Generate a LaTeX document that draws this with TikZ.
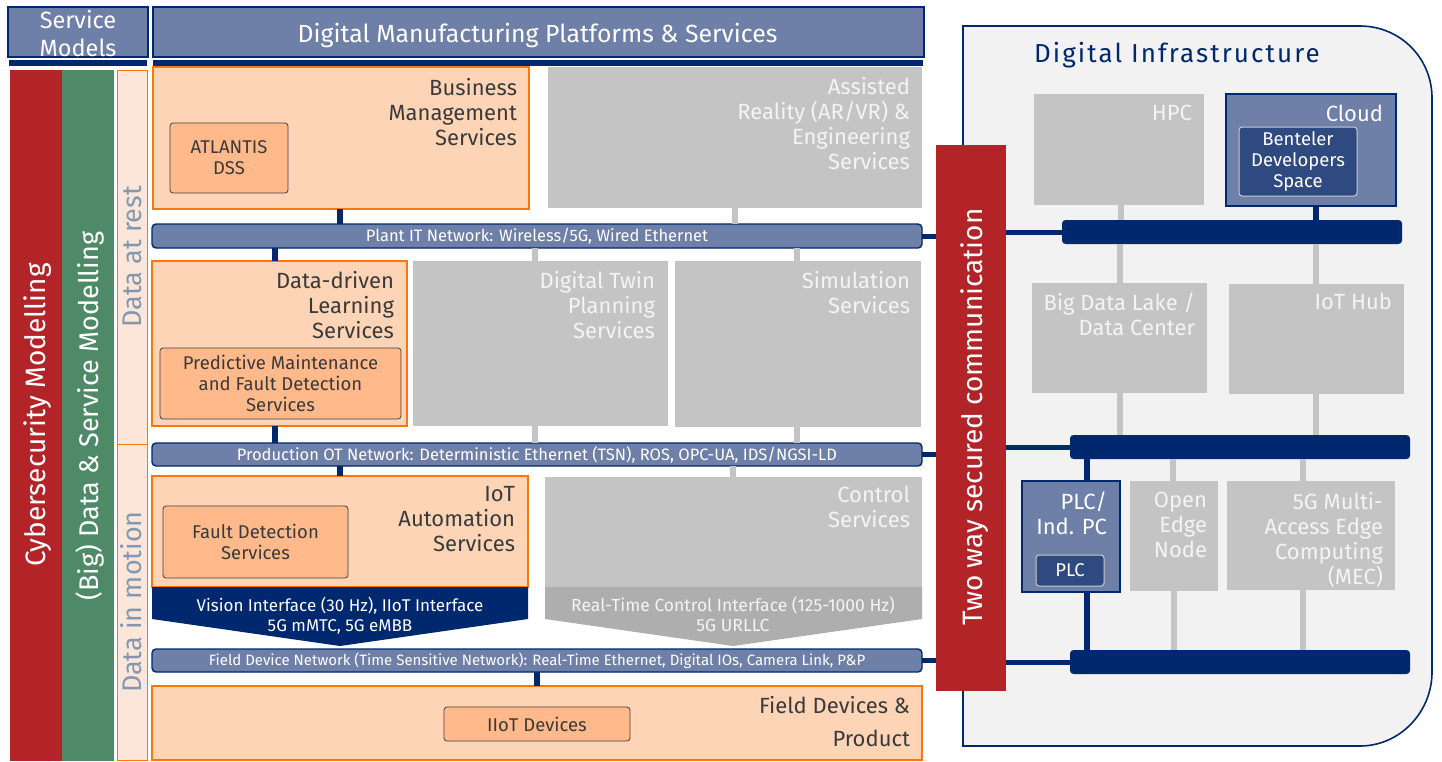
\documentclass[tikz,border=0pt]{standalone}
\usepackage{fontspec}
\setmainfont{Fira Sans}
\usetikzlibrary{calc}
\definecolor{navy}{HTML}{00286E}
\definecolor{slate}{HTML}{6E7FA8}
\definecolor{crimson}{HTML}{B22427}
\definecolor{sgreen}{HTML}{4E8A68}
\definecolor{peach}{HTML}{FDD5B6}
\definecolor{peachd}{HTML}{FFB98A}
\definecolor{orng}{HTML}{F9770E}
\definecolor{peachl}{HTML}{FBE6D9}
\definecolor{lgray}{HTML}{C4C4C4}
\definecolor{mgray}{HTML}{AEAEAE}
\definecolor{infrabg}{HTML}{F2F2F2}
\definecolor{deepblue}{HTML}{2F4A80}
\definecolor{restcol}{HTML}{8497B0}
\definecolor{dtext}{HTML}{3A3A3A}
\definecolor{gtext}{HTML}{F4F4F4}
\begin{document}
\begin{tikzpicture}[x=1pt,y=-1pt,
  every node/.style={inner sep=0pt,outer sep=0pt},
  shp/.style={anchor=north west},
  hdrbox/.style={shp, draw=navy, line width=1.6pt, fill=slate},
  navybar/.style={shp, fill=navy},
  pbox/.style={shp, draw=orng, line width=1.6pt, fill=peach},
  ibox/.style={shp, draw=black!75, line width=0.8pt, fill=peachd, rounded corners=3pt, text=dtext, align=center},
  gbox/.style={shp, fill=lgray},
  net/.style={shp, draw=navy, line width=1.4pt, fill=slate, rounded corners=4pt, text=white},
  bus/.style={shp, fill=navy, rounded corners=3.5pt},
  blbox/.style={shp, draw=navy, line width=1.8pt, fill=slate},
  dbox/.style={shp, draw=black!20, line width=1pt, fill=deepblue, rounded corners=3pt, text=white, align=center},
  dlbl/.style={text=dtext, align=right, anchor=north east},
  glbl/.style={text=gtext, align=right, anchor=north east},
  wlbl/.style={text=white, align=right, anchor=north east},
  vtxt/.style={text=white, rotate=90, anchor=base},
  nc/.style={draw=navy, line width=6pt},
  gc/.style={draw=lgray, line width=6pt},
  hc/.style={draw=navy, line width=5pt},
  fbig/.style={font=\fontsize{22}{25}\selectfont},
  fin/.style={font=\fontsize{18.5}{21}\selectfont},
  fbar/.style={font=\fontsize{16.5}{18}\selectfont},
]
\useasboundingbox (0,0) rectangle (1442,761);
% ---------- headers
\node[hdrbox, minimum width=140, minimum height=50] (smb) at (8,7) {};
\node[text=white, align=center, font=\fontsize{23.5}{28}\selectfont, anchor=north] (smt) at (78,10) {Service\\Models};
\node[navybar, minimum width=138, minimum height=6] (smbar) at (9,60) {};
\node[hdrbox, minimum width=771, minimum height=50] (dmp) at (153,7) {};
\node[text=white, anchor=base, font=\fontsize{24.8}{28}\selectfont] (dmpt) at (537.5,42) {Digital Manufacturing Platforms \& Services};
\node[navybar, minimum width=770, minimum height=6] (dmpbar) at (153,60) {};
% ---------- left columns
\node[shp, fill=crimson, minimum width=52, minimum height=691] (cyb) at (10,70) {};
\node[vtxt, font=\fontsize{28}{30}\selectfont] (cybt) at (45,415) {Cybersecurity Modelling};
\node[shp, fill=sgreen, minimum width=52, minimum height=691] (bigd) at (62,70) {};
\node[vtxt, font=\fontsize{27}{30}\selectfont] (bigdt) at (98,416) {(Big) Data \& Service Modelling};
\node[shp, draw=orng, line width=0.8pt, fill=peachl, minimum width=30, minimum height=374] (rest) at (117,70) {};
\node[shp, draw=orng, line width=0.8pt, fill=peachl, minimum width=30, minimum height=316] (motion) at (117,444) {};
\node[vtxt, text=restcol, font=\fontsize{27}{30}\selectfont] (restt) at (141,257) {Data at rest};
\node[vtxt, text=restcol, font=\fontsize{27}{30}\selectfont] (motiont) at (141,602) {Data in motion};
% ---------- digital infrastructure background
\path[draw=navy, line width=1.6pt, fill=infrabg] (963,26) -- (1360,26) .. controls (1400,26) and (1432,58) .. (1432,98) -- (1432,672) .. controls (1432,712) and (1400,746) .. (1360,746) -- (963,746) -- cycle;
\coordinate (infra) at (1197,386);
% ---------- middle stack
\node[pbox, minimum width=376, minimum height=142] (bm) at (153,67) {};
\node[dlbl, fbig] (bmt) at (517,78) {Business\\Management\\Services};
\node[ibox, fin, minimum width=118, minimum height=70] (atl) at (170,123) {ATLANTIS\\DSS};
\node[gbox, minimum width=374, minimum height=141] (ar) at (548,67) {};
\node[glbl, fbig] (art) at (910,77) {Assisted\\Reality (AR/VR) \&\\Engineering\\Services};
\node[net, minimum width=770, minimum height=24, fbar] (plant) at (152,224) {Plant IT Network: Wireless/5G, Wired Ethernet};
\node[pbox, minimum width=255, minimum height=165] (ddl) at (152,261) {};
\node[dlbl, fbig] (ddlt) at (394,271) {Data-driven\\Learning\\Services};
\node[ibox, fin, minimum width=241, minimum height=71] (pm) at (160,348) {Predictive Maintenance\\and Fault Detection\\Services};
\node[gbox, minimum width=255, minimum height=165] (dtw) at (413,261) {};
\node[glbl, fbig] (dtwt) at (655,271) {Digital Twin\\Planning\\Services};
\node[gbox, minimum width=246, minimum height=166] (sim) at (675,261) {};
\node[glbl, fbig] (simt) at (910,271) {Simulation\\Services};
\node[net, minimum width=770, minimum height=23, fbar] (ot) at (152,443) {Production OT Network: Deterministic Ethernet (TSN), ROS, OPC-UA, IDS/NGSI-LD};
\node[pbox, minimum width=376, minimum height=111] (iot) at (152,476) {};
\node[dlbl, fbig] (iott) at (515,486) {IoT\\Automation\\Services};
\node[ibox, fin, minimum width=185, minimum height=72] (fds) at (163,506) {Fault Detection\\Services};
\node[gbox, minimum width=377, minimum height=110] (ctrl) at (545,477) {};
\node[glbl, fbig] (ctrlt) at (910,486) {Control\\Services};
\path[fill=navy] (152,587) -- (528,587) -- (528,619) -- (340,646) -- (152,619) -- cycle;
\node[text=white, align=center, anchor=north, font=\fontsize{17}{20}\selectfont] (vis) at (340,597) {Vision Interface (30 Hz), IIoT Interface\\5G mMTC, 5G eMBB};
\path[fill=mgray] (545,587) -- (922,587) -- (922,619) -- (733,646) -- (545,619) -- cycle;
\node[text=gtext, align=center, anchor=north, font=\fontsize{17.5}{20}\selectfont] (rtc) at (733,597) {Real-Time Control Interface (125-1000 Hz)\\5G URLLC};
\node[net, minimum width=770, minimum height=23, font=\fontsize{15}{16}\selectfont] (fdn) at (152,649) {Field Device Network (Time Sensitive Network): Real-Time Ethernet, Digital IOs, Camera Link, P\&P};
\node[pbox, minimum width=770, minimum height=74] (fdp) at (152,686) {};
\node[dlbl, font=\fontsize{22}{33}\selectfont] (fdpt) at (910,696) {Field Devices \&\\Product};
\node[ibox, font=\fontsize{18.5}{20}\selectfont, minimum width=186, minimum height=34] (iiot) at (444,707) {IIoT Devices};
% ---------- two way bar
\node[shp, fill=crimson, minimum width=70, minimum height=546] (tw) at (936,145) {};
\node[vtxt, font=\fontsize{28}{30}\selectfont] (twt) at (982,417) {Two way secured communication};
% ---------- infrastructure
\node[text=navy, anchor=base west, font=\fontsize{26}{28}\selectfont\addfontfeature{LetterSpace=8}] (inft) at (1034,62) {Digital Infrastructure};
\node[gbox, minimum width=170, minimum height=111] (hpc) at (1034,94) {};
\node[glbl, fbig] (hpct) at (1192,105) {HPC};
\node[blbox, minimum width=170, minimum height=112] (cloud) at (1226,94) {};
\node[wlbl, fbig] (cloudt) at (1383,105) {Cloud};
\node[dbox, fin, minimum width=118, minimum height=69] (bds) at (1239,127) {Benteler\\Developers\\Space};
\node[bus, minimum width=340, minimum height=24] (bus1) at (1062,220) {};
\node[gbox, minimum width=175, minimum height=110] (bdl) at (1032,283) {};
\node[glbl, fbig] (bdlt) at (1195,293) {Big Data Lake /\\Data Center};
\node[gbox, minimum width=175, minimum height=110] (hub) at (1229,284) {};
\node[glbl, fbig] (hubt) at (1392,293) {IoT Hub};
\node[bus, minimum width=340, minimum height=24] (bus2) at (1070,435) {};
\node[blbox, minimum width=98, minimum height=111] (plc) at (1022,481) {};
\node[wlbl, fbig] (plct) at (1107,492) {PLC/\\Ind. PC};
\node[dbox, fin, minimum width=68, minimum height=31] (plci) at (1036,555) {PLC};
\node[gbox, minimum width=88, minimum height=110] (oen) at (1130,481) {};
\node[glbl, fbig] (oent) at (1207,492) {Open\\Edge\\Node};
\node[gbox, minimum width=168, minimum height=109] (mec) at (1227,481) {};
\node[glbl, fbig] (mect) at (1383,492) {5G Multi-\\Access Edge\\Computing\\(MEC)};
\node[bus, minimum width=340, minimum height=24] (bus3) at (1070,650) {};
% ---------- connectors middle
\draw[nc] (340,0 |- bm.south) -- (340,0 |- plant.north);
\draw[gc] (735,0 |- ar.south) -- (735,0 |- plant.north);
\draw[nc] (275,0 |- plant.south) -- (275,0 |- ddl.north);
\draw[gc] (535,0 |- plant.south) -- (535,0 |- dtw.north);
\draw[gc] (797,0 |- plant.south) -- (797,0 |- sim.north);
\draw[nc] (275,0 |- ddl.south) -- (275,0 |- ot.north);
\draw[gc] (535,0 |- dtw.south) -- (535,0 |- ot.north);
\draw[gc] (797,0 |- sim.south) -- (797,0 |- ot.north);
\draw[nc] (340,0 |- ot.south) -- (340,0 |- iot.north);
\draw[gc] (733,0 |- ot.south) -- (733,0 |- ctrl.north);
\draw[nc] (537,0 |- fdn.south) -- (537,0 |- fdp.north);
\draw[hc] (plant.east) -- (plant.east -| tw.west);
\draw[hc] (ot.east) -- (ot.east -| tw.west);
\draw[hc] (fdn.east) -- (fdn.east -| tw.west);
% ---------- connectors infrastructure
\draw[hc] (tw.east |- bus1.west) -- (bus1.west);
\draw[hc] (tw.east |- bus2.west) -- (bus2.west);
\draw[hc] (tw.east |- bus3.west) -- (bus3.west);
\draw[gc] (1121,0 |- hpc.south) -- (1121,0 |- bus1.north);
\draw[nc] (1316,0 |- cloud.south) -- (1316,0 |- bus1.north);
\draw[gc] (1120,0 |- bus1.south) -- (1120,0 |- bdl.north);
\draw[gc] (1316,0 |- bus1.south) -- (1316,0 |- hub.north);
\draw[gc] (1120,0 |- bdl.south) -- (1120,0 |- bus2.north);
\draw[gc] (1316,0 |- hub.south) -- (1316,0 |- bus2.north);
\draw[nc] (1087,0 |- bus2.south) -- (1087,0 |- plc.north);
\draw[gc] (1173,0 |- bus2.south) -- (1173,0 |- oen.north);
\draw[gc] (1303,0 |- bus2.south) -- (1303,0 |- mec.north);
\draw[nc] (1087,0 |- plc.south) -- (1087,0 |- bus3.north);
\draw[gc] (1174,0 |- oen.south) -- (1174,0 |- bus3.north);
\draw[gc] (1303,0 |- mec.south) -- (1303,0 |- bus3.north);
\end{tikzpicture}
\end{document}
